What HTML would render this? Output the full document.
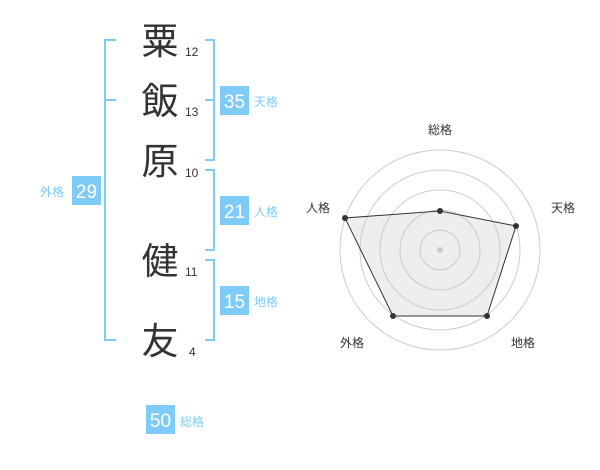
<!DOCTYPE html>
<html><head><meta charset="utf-8"><style>
body{margin:0;width:600px;height:470px;background:#fff;overflow:hidden;font-family:"Liberation Sans","Noto Sans CJK JP",sans-serif;}
</style></head><body>
<svg width="600" height="470" xmlns="http://www.w3.org/2000/svg" style="position:absolute;left:0;top:0">
<g stroke="#7ecbf7" stroke-width="2" fill="none">
<polyline points="116,40 105,40 105,340 116,340"/><line x1="105" y1="100" x2="116" y2="100"/>
<polyline points="205,40 214,40 214,160 205,160"/><line x1="205" y1="100" x2="214" y2="100"/>
<polyline points="205,170 214,170 214,250 205,250"/>
<polyline points="205,260 214,260 214,340 205,340"/>
</g>
<g fill="#7ecbf7">
<rect x="220" y="86" width="29" height="29"/><rect x="220" y="196" width="29" height="29"/>
<rect x="220" y="286" width="29" height="29"/><rect x="72" y="176" width="29" height="29"/>
<rect x="146" y="405" width="29" height="29"/>
</g>
<g fill="#fff" font-size="19" text-anchor="middle">
<text x="234.5" y="108">35</text><text x="234.5" y="218">21</text><text x="234.5" y="308">15</text>
<text x="86.5" y="198">29</text><text x="160.5" y="427">50</text>
</g>
<g fill="#7ecbf7" font-size="12">
<text x="254" y="106">天格</text><text x="254" y="216">人格</text><text x="254" y="306">地格</text>
<text x="40" y="196">外格</text><text x="180" y="426">総格</text>
</g>
<g fill="#333" font-size="37" text-anchor="middle">
<text x="160" y="54">粟</text><text x="160" y="114">飯</text><text x="160" y="174">原</text>
<text x="160" y="274">健</text><text x="160" y="354">友</text>
</g>
<g fill="#333" font-size="12">
<text x="185" y="56">12</text><text x="185" y="116">13</text><text x="185" y="177">10</text>
<text x="185" y="276">11</text><text x="189" y="356">4</text>
</g>
<g stroke="#ccc" fill="none">
<circle cx="440" cy="250" r="20"/><circle cx="440" cy="250" r="40"/><circle cx="440" cy="250" r="60"/>
<circle cx="440" cy="250" r="80"/><circle cx="440" cy="250" r="100"/>
</g>
<circle cx="440" cy="250" r="3" fill="#ccc"/>
<polygon points="440,211 516,226 487,316 393,316 345,218" fill="rgba(200,200,200,0.3)" stroke="#333" stroke-width="1"/>
<g fill="#333"><circle cx="440" cy="211" r="3"/><circle cx="516" cy="226" r="3"/><circle cx="487" cy="316" r="3"/><circle cx="393" cy="316" r="3"/><circle cx="345" cy="218" r="3"/></g>
<g fill="#333" font-size="12" text-anchor="middle">
<text x="440" y="134">総格</text><text x="563" y="212">天格</text><text x="523" y="347">地格</text>
<text x="352" y="347">外格</text><text x="318" y="212">人格</text>
</g>
</svg>
</body></html>
